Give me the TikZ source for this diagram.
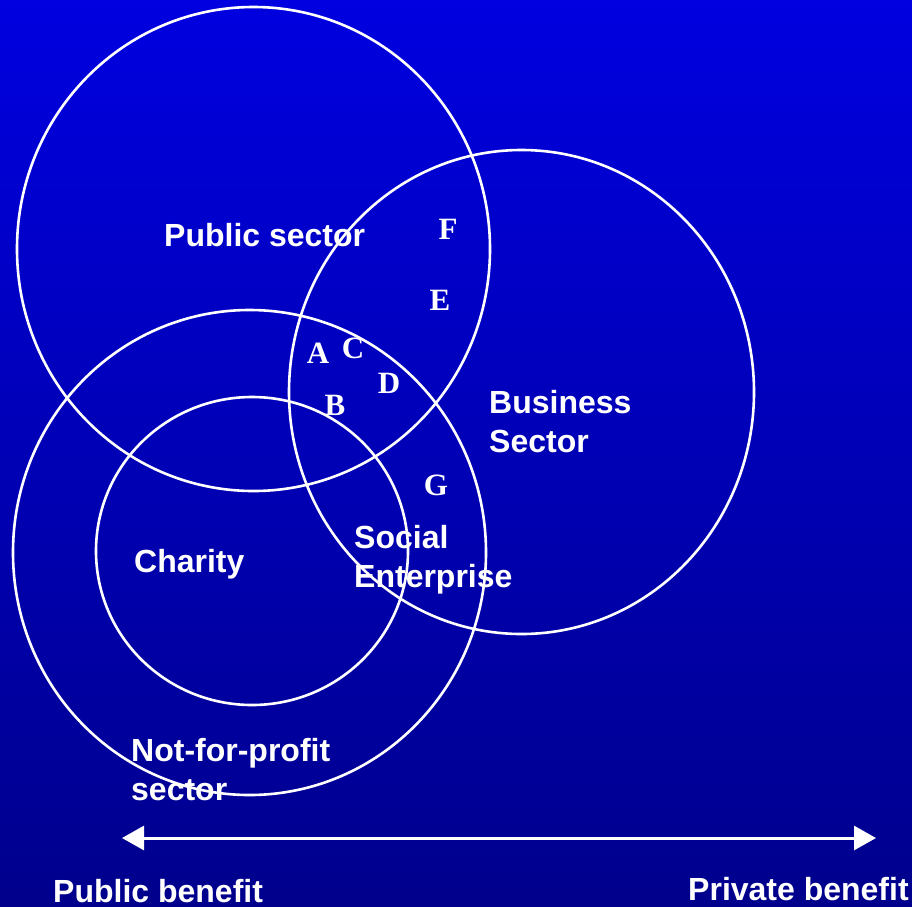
\documentclass[tikz,border=0pt]{standalone}
\usepackage{fontspec}
\setmainfont{Liberation Serif}
\setsansfont{Liberation Sans}
\usetikzlibrary{arrows.meta}
\definecolor{bgtop}{RGB}{0,0,224}
\definecolor{bgbot}{RGB}{0,0,140}
\tikzset{
  ring/.style={draw=white, line width=2.6pt},
  lbl/.style={text=white, font=\sffamily\bfseries\fontsize{32}{38.5}\selectfont, anchor=base west, inner sep=0pt, align=left},
  ltr/.style={text=white, font=\rmfamily\bfseries\fontsize{31}{31}\selectfont, inner sep=0pt},
}
\begin{document}
\begin{tikzpicture}[x=1pt,y=-1pt]
\useasboundingbox (0,0) rectangle (912,906);
\shade[top color=bgtop, bottom color=bgbot] (0,0) rectangle (912,906);
% circles
\draw[ring] (253.5,249) ellipse [x radius=236.5, y radius=242];
\draw[ring] (521.5,392) ellipse [x radius=232.5, y radius=242];
\draw[ring] (249.5,552.5) ellipse [x radius=236.5, y radius=242.5];
\draw[ring] (252,551) ellipse [x radius=156, y radius=154];
% labels (multi-line nodes: base = last line's baseline)
\node[lbl] (pub) at (164,246) {Public sector};
\node[lbl] (bus) at (489,452) {Business\\Sector};
\node[lbl] (cha) at (134,572) {Charity};
\node[lbl] (soc) at (354,587) {Social\\Enterprise};
\node[lbl] (nfp) at (131,800) {Not-for-profit\\sector};
\node[lbl] (pb) at (53,902) {Public benefit};
\node[lbl] (prb) at (688,900) {Private benefit};
% letters
\node[ltr] (F) at (448,229) {F};
\node[ltr] (E) at (440,300) {E};
\node[ltr] (A) at (318,353) {A};
\node[ltr] (C) at (353,348) {C};
\node[ltr] (D) at (389,383) {D};
\node[ltr] (B) at (335,405) {B};
\node[ltr] (G) at (436,485) {G};
% arrow
\coordinate (al) at (122,838);
\coordinate (ar) at (876,838);
\draw[white, line width=3pt, {Triangle[width=24pt,length=22pt]}-{Triangle[width=24pt,length=22pt]}] (al) -- (ar);
\end{tikzpicture}
\end{document}
